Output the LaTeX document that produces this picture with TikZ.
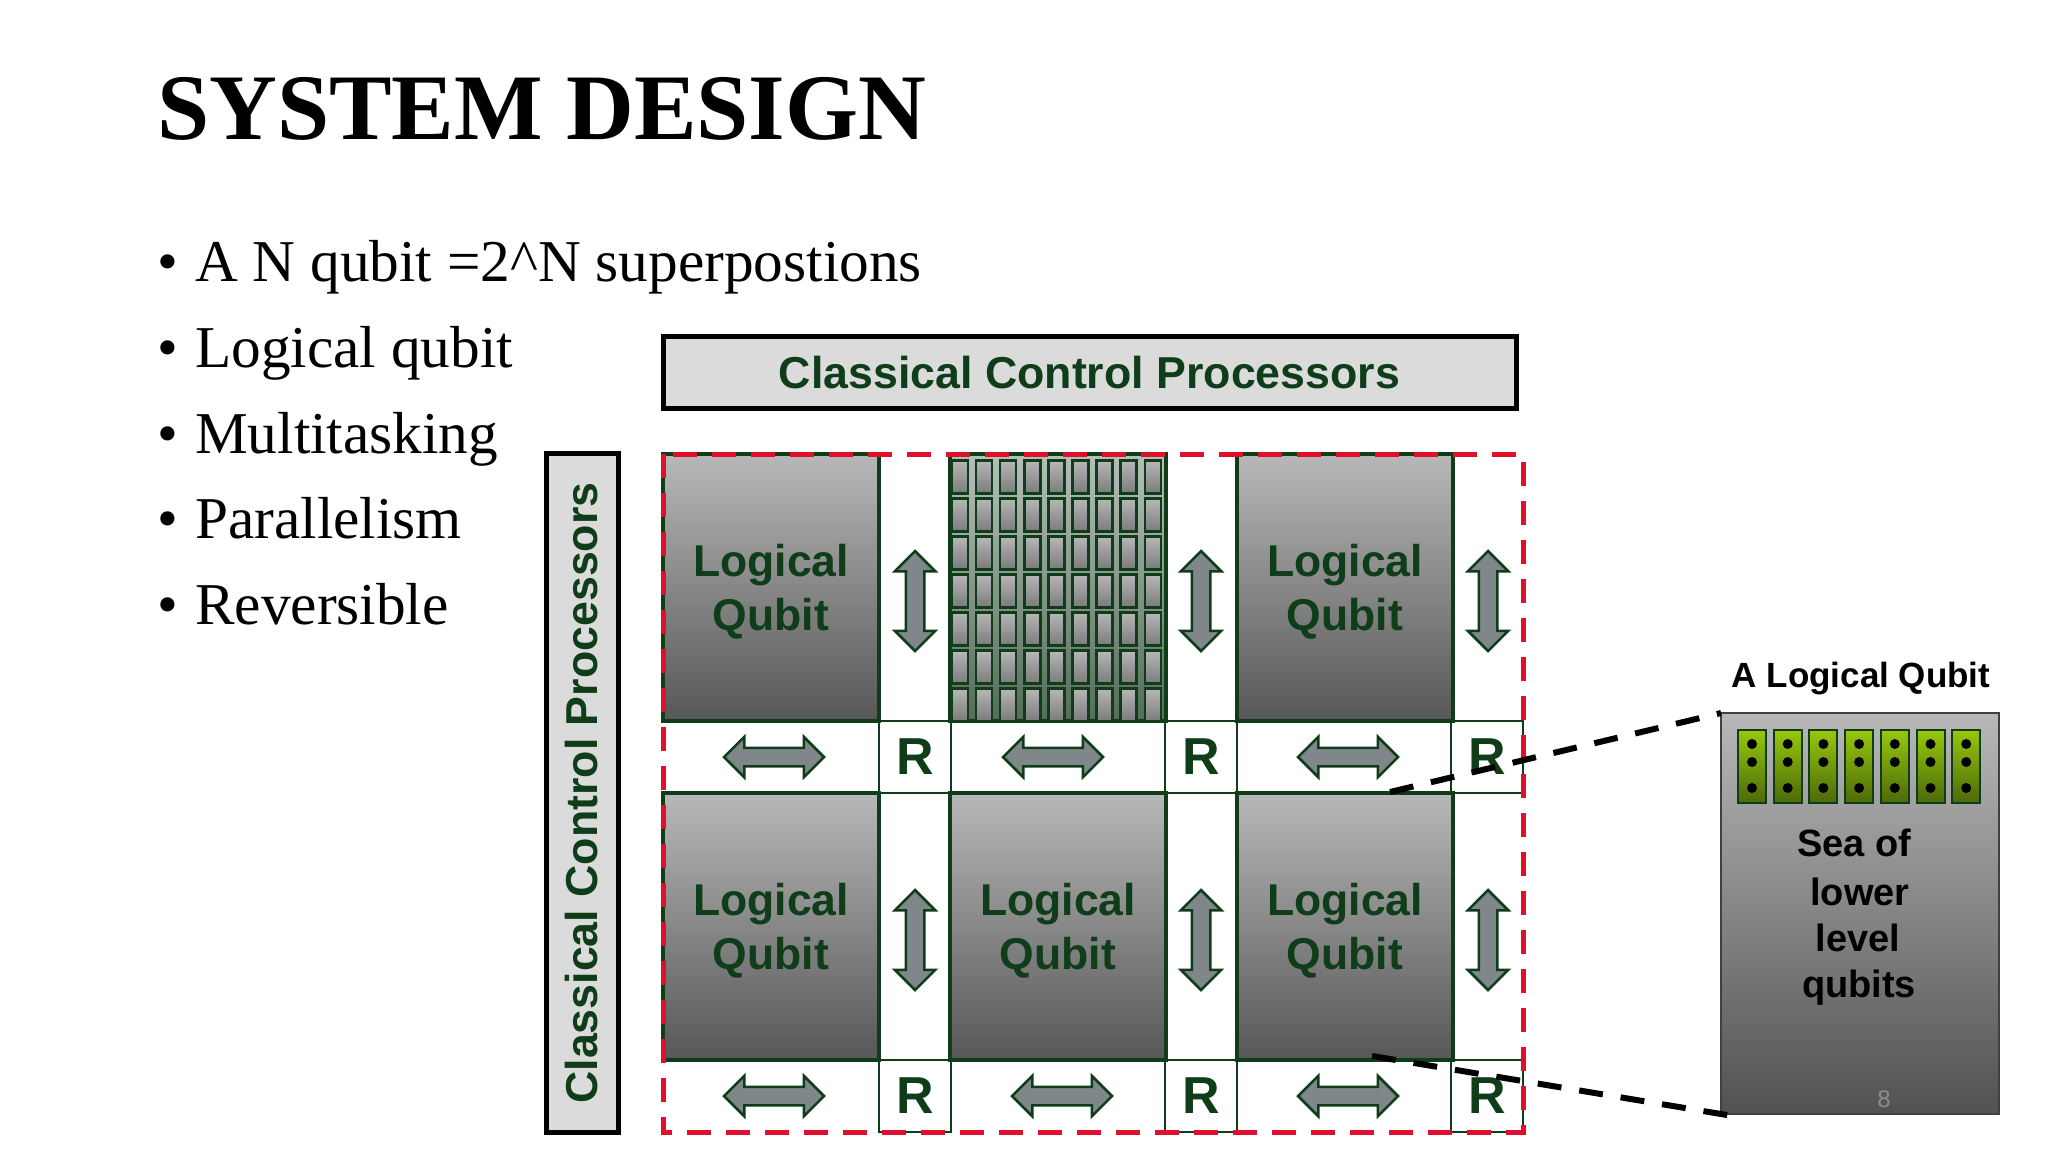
\documentclass[tikz,border=0pt]{standalone}
\usepackage{fontspec}
\setmainfont{Liberation Serif}
\newfontfamily\diagfont{Liberation Sans}
\usetikzlibrary{shapes,arrows,shadings}
\definecolor{darkgreen}{HTML}{0F3D1A}
\definecolor{slidered}{HTML}{E0102C}
\definecolor{arrowgray}{HTML}{80878A}
\definecolor{chiptop}{HTML}{98C80E}
\definecolor{chipbot}{HTML}{4C6A08}
\newcommand{\px}[1]{\fontsize{#1}{#1}\selectfont}
\newcommand{\qlabel}{\rule{0pt}{41pt}Logical\\[10pt]Qubit}
\tikzstyle{heading} = [anchor=base west, inner sep=0pt, font=\px{93.8}\bfseries]
\tikzstyle{bullet} = [anchor=base west, inner sep=0pt, font=\px{59.3}]
\tikzstyle{control} = [rectangle, draw=black, line width=5pt, fill=black!14, outer sep=0pt,
    text=darkgreen, font=\diagfont\px{44.7}\bfseries]
\tikzstyle{qubit} = [rectangle, draw=darkgreen, line width=4pt, top color=black!28, bottom color=black!66,
    minimum width=216pt, minimum height=267pt, outer sep=0pt, align=center, text=darkgreen,
    font=\diagfont\px{44.5}\bfseries, node distance=287pt]
\tikzstyle{sea} = [qubit, top color=black!28!darkgreen!30, bottom color=darkgreen!75!black!70]
\tikzstyle{router} = [rectangle, draw=darkgreen, line width=2pt, fill=white, minimum width=72pt,
    minimum height=72pt, outer sep=0pt, text=darkgreen, font=\diagfont\px{52}\bfseries, node distance=286pt]
\tikzstyle{link} = [double arrow, draw=darkgreen, line width=2.5pt, fill=arrowgray, inner xsep=0pt, inner ysep=8pt,
    minimum height=100pt, double arrow head extend=11pt, double arrow tip angle=90]
\tikzstyle{vlink} = [link, rotate=90]
\tikzstyle{frame} = [draw=slidered, line width=5pt, dash pattern=on 24pt off 15pt]
\tikzstyle{zoomline} = [draw=black, line width=6pt, dash pattern=on 24pt off 18pt]
\tikzstyle{detail} = [rectangle, draw=black!75, line width=2pt, top color=black!28, bottom color=black!68,
    minimum width=278pt, minimum height=401pt, outer sep=0pt]
\tikzstyle{chip} = [rectangle, draw=darkgreen, line width=2pt, top color=chiptop,
    bottom color=chipbot, minimum width=28pt, minimum height=73pt, inner sep=0pt]
\tikzstyle{cell} = [rectangle, draw=darkgreen, line width=2.5pt, top color=black!28, bottom color=black!52,
    minimum width=16pt, minimum height=33pt, inner sep=0pt]
\tikzstyle{seatext} = [font=\diagfont\px{38}\bfseries, inner sep=0pt]

\begin{document}
\begin{tikzpicture}[x=1pt, y=-1pt]
    \useasboundingbox (0,0) rectangle (2048,1152);

    \node [heading] (title) at (157,139) {SYSTEM DESIGN};
    \node [bullet] (b1) at (157,281) {\makebox[38pt][l]{•}A N qubit =2\^{}N superpostions};
    \node [bullet] (b2) at (157,367) {\makebox[38pt][l]{•}Logical qubit};
    \node [bullet] (b3) at (157,453) {\makebox[38pt][l]{•}Multitasking};
    \node [bullet] (b4) at (157,538.5) {\makebox[38pt][l]{•}Parallelism};
    \node [bullet] (b5) at (157,624.5) {\makebox[38pt][l]{•}Reversible};

    \node [control, minimum width=853pt, minimum height=72pt] (ctop) at (1089.5,372.5) {Classical Control Processors};
    \node [control, rotate=90, minimum width=679pt, minimum height=72pt] (cside) at (582,793) {Classical Control Processors};

    % routers first, qubits go over them
    \node [router] (r1) at (915,757) {R};
    \node [router, right of=r1] (r2) {R};
    \node [router, right of=r2] (r3) {R};
    \node [router, below of=r1, node distance=339pt] (r4) {R};
    \node [router, right of=r4] (r5) {R};
    \node [router, right of=r5] (r6) {R};

    \node [qubit] (q1) at (771,587.5) {\qlabel};
    \node [sea, right of=q1] (q2) {};
    \node [qubit, right of=q2] (q3) {\qlabel};
    \node [qubit, below of=q1, node distance=339pt] (q4) {\qlabel};
    \node [qubit, right of=q4] (q5) {\qlabel};
    \node [qubit, right of=q5] (q6) {\qlabel};

    % grid of small cells
    \foreach \i in {0,...,8} {
        \foreach \j in {0,...,6} {
            \node [cell] (c\i\j) at (960+24.1*\i,477+38*\j) {};
        }
    }

    \node [vlink] (v1) at (915,601) {};
    \node [vlink] (v2) at (1201,601) {};
    \node [vlink] (v3) at (1488,601) {};
    \node [vlink] (v4) at (915,940) {};
    \node [vlink] (v5) at (1201,940) {};
    \node [vlink] (v6) at (1488,940) {};
    \node [link] (h1) at (774,757) {};
    \node [link] (h2) at (1053,757) {};
    \node [link] (h3) at (1348,757) {};
    \node [link] (h4) at (774,1096) {};
    \node [link] (h5) at (1062,1096) {};
    \node [link] (h6) at (1348,1096) {};

    \path [frame] (q1.north west) rectangle (r6.south east);

    \node [detail] (zoom) at (1860,913.5) {};
    \node [font=\diagfont\px{35}\bfseries, inner sep=0pt] (ztitle) at (1861,679) {A Logical Qubit};
    \foreach \i in {0,...,6} {
        \node [chip] (g\i) at (1752+35.7*\i,766) {};
        \foreach \y in {744,762,788} {
            \fill [black] (1752+35.7*\i,\y) circle (5pt);
        }
    }
    \node [seatext] (s1) at (1854,843) {Sea of};
    \node [seatext] (s2) at (1860,892) {lower};
    \node [seatext] (s3) at (1858,938) {level};
    \node [seatext] (s4) at (1859,988) {qubits};
    \node [font=\diagfont\px{24}, text=black!45, inner sep=0pt] (page) at (1884,1099) {8};

    \coordinate (ztop) at (1390,792);
    \coordinate (zbot) at (1372,1056);
    \path [zoomline] (ztop) -- (zoom.north west);
    \path [zoomline, shorten >=-10pt] (zbot) -- (zoom.south west);

\end{tikzpicture}
\end{document}
